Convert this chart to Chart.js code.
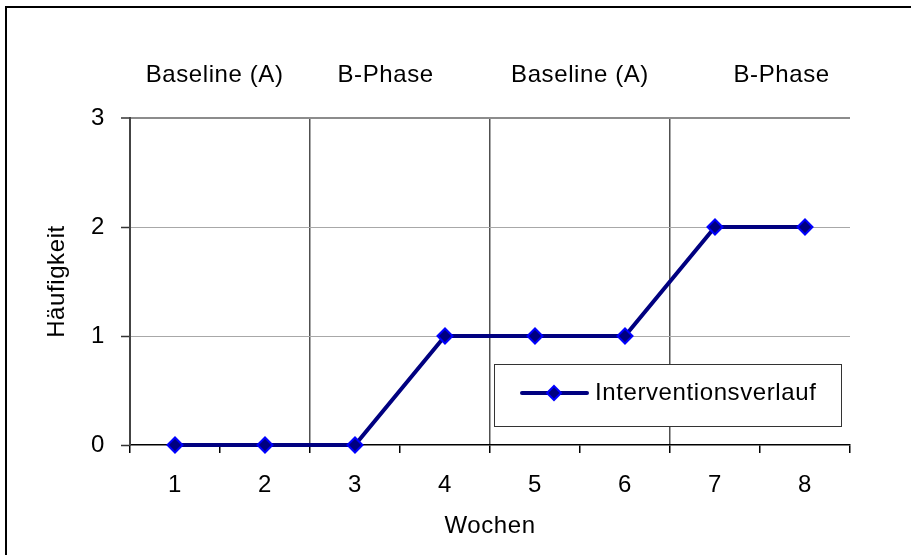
<!DOCTYPE html>
<html><head><meta charset="utf-8">
<script src="https://cdn.jsdelivr.net/npm/chart.js@4/dist/chart.umd.min.js"></script>
<style>html,body{margin:0;padding:0;background:#fff;} #wrap{width:911px;height:555px;position:relative;}</style>
</head><body><div id="wrap"><canvas id="c" width="911" height="555"></canvas></div>
<script>
// ---- data ----
const weeks = ['1','2','3','4','5','6','7','8'];
const frequency = [0, 0, 0, 1, 1, 1, 2, 2];
const seriesLabel = 'Interventionsverlauf';
const phaseLabels = ['Baseline (A)', 'B-Phase', 'Baseline (A)', 'B-Phase'];
const phaseStartWeeks = ['1', '3', '5', '7'];
const yTickValues = [0, 1, 2, 3];
const xTitle = 'Wochen';
const yTitle = 'Häufigkeit';

// ---- layout / styles ----
const FONT = "'Liberation Sans', Arial, sans-serif";
const FS = 24;
const LS = '0.6px';
const NAVY = '#000080';
const BLUE = '#0000FF';
const phaseLabelShift = [-0.06, -0.16, 0, 0.24]; // in category widths

const phaseBoundaryIdx = phaseStartWeeks.map(w => weeks.indexOf(w)).filter(i => i > 0);

function setSpacing(chart){ try { chart.ctx.letterSpacing = LS; } catch(e){} }

function drawDiamond(ctx, x, y, r){
  ctx.beginPath();
  ctx.moveTo(x, y - r); ctx.lineTo(x + r, y); ctx.lineTo(x, y + r); ctx.lineTo(x - r, y); ctx.closePath();
  ctx.fillStyle = NAVY; ctx.fill();
  ctx.lineWidth = 2; ctx.strokeStyle = BLUE; ctx.stroke();
}

const decor = {
  id: 'decor',
  beforeLayout(chart){ setSpacing(chart); },
  beforeDraw(chart){
    setSpacing(chart);
    const ctx = chart.ctx;
    ctx.save();
    ctx.fillStyle = '#fff'; ctx.fillRect(0,0,chart.width,chart.height);
    ctx.strokeStyle = '#000'; ctx.lineWidth = 2;
    ctx.beginPath();
    ctx.moveTo(6, chart.height); ctx.lineTo(6, 7); ctx.lineTo(chart.width, 7);
    ctx.stroke();
    ctx.restore();
  },
  afterDraw(chart){
    const ctx = chart.ctx, ca = chart.chartArea, xs = chart.scales.x;
    ctx.save();
    ctx.letterSpacing = LS;
    // phase labels
    const starts = phaseStartWeeks.map(w => weeks.indexOf(w));
    const step = xs.getPixelForValue(1) - xs.getPixelForValue(0);
    const half = step / 2;
    ctx.font = FS + 'px ' + FONT; ctx.fillStyle = '#000';
    ctx.textAlign = 'center'; ctx.textBaseline = 'middle';
    phaseLabels.forEach((lab, i) => {
      const a = xs.getPixelForValue(starts[i]) - half;
      const endIdx = i + 1 < starts.length ? starts[i+1] - 1 : weeks.length - 1;
      const b = xs.getPixelForValue(endIdx) + half;
      ctx.fillText(lab, (a + b) / 2 + phaseLabelShift[i] * step, ca.top - 43);
    });
    // legend box
    const bw = 347, bh = 62;
    const bx = ca.right - 356, by = ca.bottom - 81;
    ctx.fillStyle = '#fff'; ctx.fillRect(bx, by, bw, bh);
    ctx.strokeStyle = '#333'; ctx.lineWidth = 1;
    ctx.strokeRect(bx + 0.5, by + 0.5, bw, bh);
    const ly = by + 29;
    ctx.strokeStyle = NAVY; ctx.lineWidth = 4; ctx.lineCap = 'round';
    ctx.beginPath(); ctx.moveTo(bx + 28, ly); ctx.lineTo(bx + 93, ly); ctx.stroke();
    drawDiamond(ctx, bx + 60, ly, 7);
    ctx.fillStyle = '#000'; ctx.textAlign = 'left';
    ctx.fillText(seriesLabel, bx + 101, ly);
    ctx.restore();
  }
};

new Chart(document.getElementById('c'), {
  type: 'line',
  data: {
    labels: weeks,
    datasets: [{
      label: seriesLabel,
      data: frequency,
      borderColor: NAVY,
      borderWidth: 4,
      tension: 0,
      pointStyle: 'rectRot',
      pointRadius: 7.5,
      pointHoverRadius: 7.5,
      pointBackgroundColor: NAVY,
      pointBorderColor: BLUE,
      pointBorderWidth: 2,
      clip: false
    }]
  },
  options: {
    responsive: false,
    animation: false,
    devicePixelRatio: 1,
    layout: { padding: { left: 0, top: 118, right: 61, bottom: 0 } },
    plugins: { legend: { display: false }, tooltip: { enabled: false } },
    scales: {
      x: {
        type: 'category',
        offset: true,
        afterFit(s){ s.height = 110; },
        grid: {
          offset: true,
          drawOnChartArea: true,
          color(ctx){
            const i = ctx.index;
            if (phaseBoundaryIdx.includes(i)) return '#505050';
            if (i === weeks.length) return '#8c8c8c';
            return 'rgba(0,0,0,0)';
          },
          lineWidth(ctx){ return ctx.index === weeks.length ? 2 : 1.5; },
          tickColor: '#000',
          tickWidth: 1.5,
          tickLength: 8
        },
        border: { display: true, color: '#000', width: 1.5 },
        ticks: { color: '#000', font: { family: FONT, size: FS }, padding: 18, maxRotation: 0, autoSkip: false },
        title: { display: true, text: xTitle, color: '#000', font: { family: FONT, size: FS }, padding: { top: 0, bottom: 14 } }
      },
      y: {
        min: 0, max: 3,
        afterFit(s){ s.width = 130; },
        afterBuildTicks(s){ s.ticks = yTickValues.map(v => ({ value: v })); },
        grid: {
          color(ctx){
            const v = ctx.tick && ctx.tick.value;
            if (v === 0) return 'rgba(0,0,0,0)';
            if (v === 3) return '#8c8c8c';
            return '#a8a8a8';
          },
          lineWidth(ctx){ return ctx.tick && ctx.tick.value === 3 ? 2 : 1; },
          tickColor: '#333',
          tickWidth: 1.5,
          tickLength: 9
        },
        border: { display: true, color: '#444', width: 2 },
        ticks: { color: '#000', font: { family: FONT, size: FS }, padding: 16, stepSize: 1 },
        title: { display: true, text: yTitle, color: '#000', font: { family: FONT, size: FS }, padding: { top: 43, bottom: 0 } }
      }
    }
  },
  plugins: [decor]
});
</script>
</body></html>
